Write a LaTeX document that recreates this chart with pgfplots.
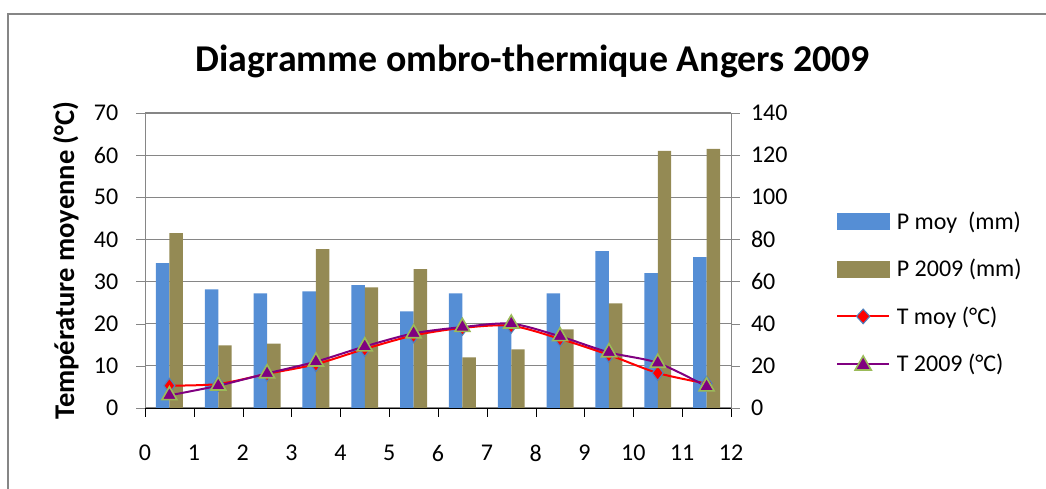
\documentclass[border=0pt]{standalone}
\usepackage{pgfplots}
\pgfplotsset{compat=1.18}
\usepackage{pgfplotstable}
\usepackage{fontspec}
\setmainfont{Carlito}
\definecolor{pblue}{HTML}{558ED5}
\definecolor{polive}{HTML}{948A54}
\definecolor{tpurple}{HTML}{800080}
\definecolor{mgreen}{HTML}{9BBB59}
\definecolor{mblue}{HTML}{4F81BD}
\definecolor{axgray}{HTML}{868686}

\pgfplotstableread{
m pmoy p09
0.5 68.7 83.0
1.5 56.3 29.7
2.5 54.4 30.6
3.5 55.4 75.4
4.5 58.3 57.3
5.5 45.9 65.9
6.5 54.4 24.0
7.5 40.0 27.8
8.5 54.4 37.3
9.5 74.4 49.7
10.5 64.0 122.0
11.5 71.6 123.0
}\precip

\pgfplotstableread{
m tmoy t09
0.5 5.3 3.0
1.5 5.7 5.3
2.5 8.1 8.2
3.5 10.4 11.0
4.5 14.0 14.6
5.5 17.2 17.7
6.5 19.0 19.2
7.5 19.5 20.0
8.5 16.4 17.0
9.5 12.6 13.2
10.5 8.3 10.7
11.5 5.8 5.1
}\temp

\newcommand{\fs}{\fontsize{18}{21}\selectfont}

\begin{document}
\begin{tikzpicture}
\useasboundingbox (0pt,0pt) rectangle (784.5pt,366.75pt);
\draw[axgray,line width=1.5pt] (6pt,0pt) -- (6pt,355.9pt) -- (784.5pt,355.9pt);
\node[font=\fontsize{28.4}{32}\selectfont\bfseries] at (399.75pt,321pt) {Diagramme ombro-thermique Angers 2009};

% precipitation bars (right axis)
\begin{axis}[
  at={(108.75pt,60.75pt)}, anchor=south west,
  scale only axis, width=439.5pt, height=221.25pt,
  xmin=0, xmax=12, ymin=0, ymax=140,
  xtick={0,1,...,12}, ytick={0,20,...,140},
  axis x line*=bottom, axis y line*=right,
  x axis line style={black,-}, y axis line style={axgray,-},
  ymajorgrids, grid style={axgray, line width=0.9pt},
  tick align=outside, major tick length=6.5pt,
  x tick style={black}, y tick style={axgray},
  tick label style={font=\fs},
  /pgf/number format/assume math mode=true,
  xticklabel style={yshift=-18pt},
  yticklabel style={xshift=5pt},
  ybar, bar width=0.275,
]
\addplot[fill=pblue, draw=none, bar shift=-0.1375] table[x=m,y=pmoy] {\precip};
\addplot[fill=polive, draw=none, bar shift=0.1375] table[x=m,y=p09] {\precip};
\end{axis}

% temperature lines (left axis)
\begin{axis}[
  at={(108.75pt,60.75pt)}, anchor=south west,
  scale only axis, width=439.5pt, height=221.25pt,
  xmin=0, xmax=12, ymin=0, ymax=70,
  ytick={0,10,...,70},
  axis x line=none, axis y line*=left,
  y axis line style={axgray,-}, y tick style={axgray},
  tick align=outside, major tick length=6.5pt,
  tick label style={font=\fs},
  /pgf/number format/assume math mode=true,
  yticklabel style={xshift=-10pt},
  ylabel={\bfseries Température moyenne (°C)},
  ylabel style={font=\fontsize{21.4}{24}\selectfont, at={(axis description cs:-0.135,0.5)}, anchor=center},
  legend style={at={(axis description cs:1.179,0.676)}, anchor=north west,
    draw=none, fill=none, font=\fs, row sep=17pt, inner sep=0pt,
    nodes={inner xsep=5pt}},
  legend cell align=left,
]
\addlegendimage{legend image code/.code={\fill[pblue] (0pt,-6pt) rectangle (39pt,6pt);}}
\addlegendentry{P moy\ \ (mm)}
\addlegendimage{legend image code/.code={\fill[polive] (0pt,-6pt) rectangle (39pt,6pt);}}
\addlegendentry{P 2009 (mm)}
\addplot[red, line width=1.5pt, smooth, tension=0.5, mark=diamond*, mark size=5.5pt,
  mark options={fill=red, draw=mblue, line width=0.8pt},
  legend image code/.code={\draw[red,line width=1.5pt] (0pt,0pt) -- (39pt,0pt);
    \draw[mblue,fill=red,line width=0.8pt] (19.5pt,5.5pt) -- (24.5pt,0pt) -- (19.5pt,-5.5pt) -- (14.5pt,0pt) -- cycle;}]
  table[x=m,y=tmoy] {\temp};
\addlegendentry{T moy (°C)}
\addplot[tpurple, line width=1.5pt, smooth, tension=0.5, mark=triangle*, mark size=6.5pt,
  mark options={fill=tpurple, draw=mgreen, line width=1.2pt},
  legend image code/.code={\draw[tpurple,line width=1.5pt] (0pt,0pt) -- (39pt,0pt);
    \draw[mgreen,fill=tpurple,line width=1.2pt] (19.5pt,6pt) -- (25.5pt,-4.5pt) -- (13.5pt,-4.5pt) -- cycle;}]
  table[x=m,y=t09] {\temp};
\addlegendentry{T 2009 (°C)}
\end{axis}
\end{tikzpicture}
\end{document}
